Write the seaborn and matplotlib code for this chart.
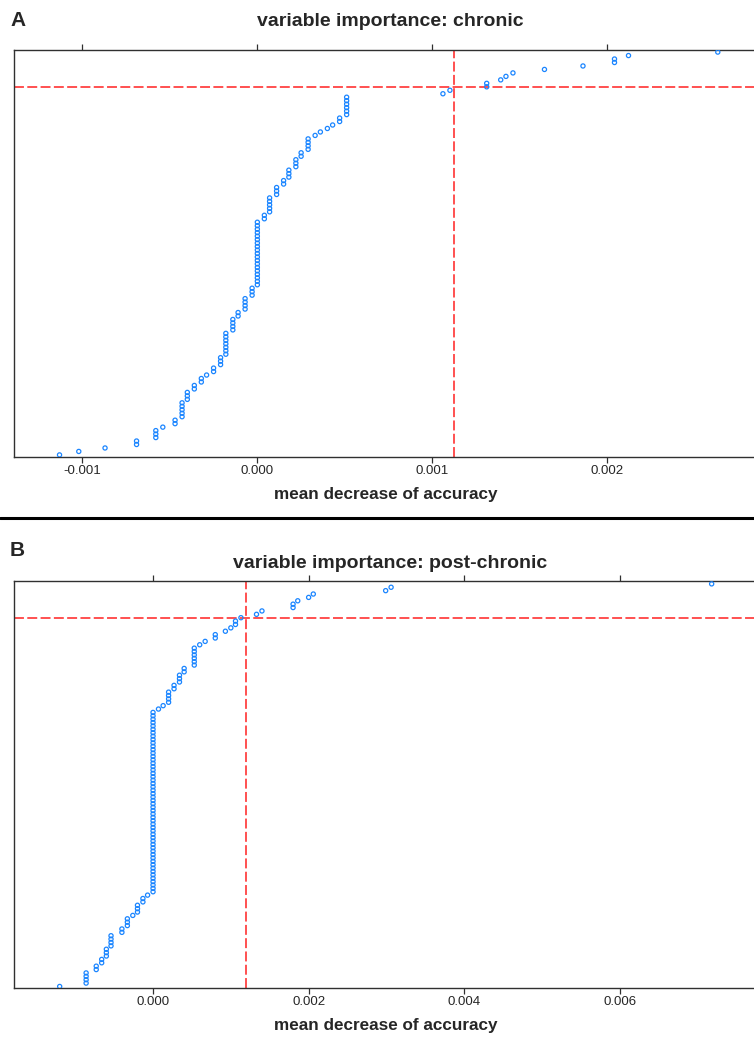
import matplotlib
matplotlib.use("Agg")
import matplotlib.pyplot as plt
from matplotlib.lines import Line2D
import numpy as np
import pandas as pd
import seaborn as sns

# --------------------------------------------------------
# Data (values sorted high -> low,
# counts = how many variables share that value)
# --------------------------------------------------------
chronic_vals = [0.00263, 0.00212, 0.00204, 0.00186, 0.00164, 0.00146, 0.00142,
                0.00139, 0.00131, 0.00110, 0.00106, 0.00051, 0.00047, 0.00043,
                0.00040, 0.00036, 0.00033, 0.00029, 0.00025, 0.00022, 0.00018,
                0.00015, 0.00011, 0.00007, 0.00004, 0.0, -0.00003, -0.00007,
                -0.00011, -0.00014, -0.00018, -0.00021, -0.00025, -0.00029,
                -0.00032, -0.00036, -0.00040, -0.00043, -0.00047, -0.00054,
                -0.00058, -0.00069, -0.00087, -0.00102, -0.00113]
chronic_counts = [1, 1, 2, 1, 1, 1, 1, 1, 2, 1, 1, 6, 2, 1, 1, 1, 1, 4, 2, 3, 3,
                  2, 3, 5, 2, 19, 3, 4, 2, 4, 7, 3, 2, 1, 2, 2, 3, 5, 2, 1, 3,
                  2, 1, 1, 1]

post_vals = [0.00718, 0.00306, 0.00299, 0.00206, 0.00200, 0.00186, 0.00180,
             0.00140, 0.00133, 0.00113, 0.00106, 0.00100, 0.00093, 0.00080,
             0.00067, 0.00060, 0.00053, 0.00040, 0.00034, 0.00027, 0.00020,
             0.00013, 0.00007, 0.0, -0.00007, -0.00013, -0.00020, -0.00026,
             -0.00033, -0.00040, -0.00054, -0.00060, -0.00066, -0.00073,
             -0.00086, -0.00120]
post_counts = [1, 1, 1, 1, 1, 1, 2, 1, 1, 1, 2, 1, 1, 2, 1, 1, 6, 2, 3, 2, 4,
               1, 1, 54, 1, 2, 3, 1, 3, 2, 4, 3, 2, 2, 4, 1]

# cutoffs shown as red dashed lines
chronic_cut = 0.001125
post_cut = 0.0012
cut_rank = 11  # rank (from top) where the horizontal line sits

chronic_ticks = [-0.001, 0.0, 0.001, 0.002]
post_ticks = [0.0, 0.002, 0.004, 0.006]

titles = ["variable importance: chronic", "variable importance: post-chronic"]
panel_tags = ["A", "B"]
xlabel = "mean decrease of accuracy"

# --------------------------------------------------------
# Style
# --------------------------------------------------------
sns.set_style("white")
plt.rcParams["font.family"] = ["Liberation Sans", "DejaVu Sans"]
plt.rcParams["axes.unicode_minus"] = False

W, H = 754, 1038
fig = plt.figure(figsize=(W / 100, H / 100), dpi=100)

point_col = "#1a85ff"
line_col = "#ff2020"
frame_col = "#303030"


def panel(rect, vals, counts, cut, ticks, xlim, ylim_pad, title, tag, title_y, tag_y):
    df = pd.DataFrame({"value": np.repeat(vals, counts)})
    n = len(df)
    df["pos"] = np.arange(n, 0, -1)

    ax = fig.add_axes(rect)
    sns.scatterplot(data=df, x="value", y="pos", ax=ax, marker="o", s=9,
                    facecolors="none", edgecolor=point_col, linewidth=0.9,
                    legend=False, zorder=3)
    ax.axvline(cut, color=line_col, lw=1.1, dashes=(6.5, 2.2), zorder=2)
    ax.axhline(n + 1 - cut_rank, color=line_col, lw=1.1, dashes=(6.5, 2.2), zorder=2)

    ax.set_xlim(*xlim)
    ax.set_ylim(ylim_pad[0], n + ylim_pad[1])
    ax.set_xticks(ticks)
    ax.set_xticklabels([f"{t:.3f}" for t in ticks], fontsize=9.5)
    ax.set_yticks([])
    ax.set_ylabel("")
    ax.set_xlabel(xlabel, fontsize=12.3, fontweight="bold", labelpad=7)
    ax.tick_params(axis="x", which="both", top=True, bottom=True, labeltop=False,
                   direction="out", length=4, width=0.9, color=frame_col, pad=2)
    for sp in ax.spines.values():
        sp.set_color(frame_col)
        sp.set_linewidth(1.0)

    fig.text(390 / W, 1 - title_y / H, title, ha="center", va="center",
             fontsize=14, fontweight="bold")
    fig.text(10 / W, 1 - tag_y / H, tag, ha="left", va="center",
             fontsize=15, fontweight="bold")
    return ax


left = 14 / W
width = (757 - 14) / W

# Panel A
panel([left, 1 - 457 / H, width, (457 - 50) / H],
      chronic_vals, chronic_counts, chronic_cut, chronic_ticks,
      (-0.00139, 0.002854), (0.4, 0.6), titles[0], panel_tags[0], 21, 21)

# Panel B
panel([left, 1 - 988 / H, width, (988 - 581) / H],
      post_vals, post_counts, post_cut, post_ticks,
      (-0.001787, 0.007763), (0.55, 0.85), titles[1], panel_tags[1], 563, 550)

# thick separator between the panels
fig.add_artist(Line2D([0, 1], [1 - 518 / H, 1 - 518 / H], transform=fig.transFigure,
                      color="black", lw=2.2))

fig.savefig("out.png", dpi=100)
plt.close(fig)
